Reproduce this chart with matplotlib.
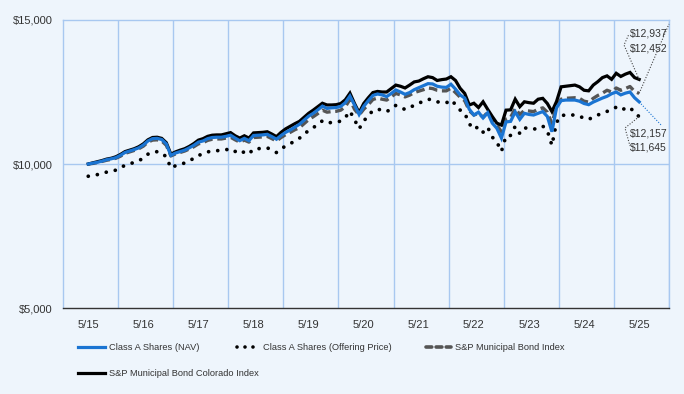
import matplotlib
matplotlib.use("Agg")
import matplotlib.pyplot as plt
from matplotlib.lines import Line2D

plt.rcParams['font.family'] = ['Liberation Sans', 'DejaVu Sans']

# ---------------- data (monthly, 5/15 .. 5/25) ----------------
tick_labels = ["5/15", "5/16", "5/17", "5/18", "5/19", "5/20", "5/21", "5/22", "5/23", "5/24", "5/25"]

nav = [10000, 10030, 10060, 10100, 10150, 10180, 10220, 10300, 10400, 10450, 10500, 10560,
       10660, 10800, 10880, 10890, 10850, 10700, 10300, 10380, 10430, 10480, 10560, 10650,
       10760, 10800, 10880, 10920, 10930, 10930, 10960, 11000, 10900, 10810, 10890, 10810,
       10990, 11000, 11010, 11030, 10950, 10860, 10990, 11100, 11180, 11280, 11380, 11520,
       11660, 11760, 11880, 12010, 11930, 11950, 11960, 12000, 12130, 12360, 12050, 11720,
       12000, 12200, 12380, 12430, 12400, 12340, 12450, 12570, 12500, 12420, 12480, 12580,
       12650, 12720, 12790, 12780, 12700, 12670, 12660, 12770, 12600, 12400, 12290, 11900,
       11700, 11800, 11600, 11780, 11420, 11240, 10900, 11460, 11480, 11810, 11550, 11760,
       11720, 11700, 11760, 11820, 11650, 11120, 11950, 12200, 12220, 12220, 12220, 12180,
       12100, 12060, 12150, 12220, 12290, 12350, 12440, 12500, 12400, 12460, 12500, 12300,
       12157]

offering = [9575, 9604, 9632, 9671, 9719, 9747, 9786, 9862, 9958, 10006, 10054, 10111,
            10207, 10341, 10418, 10427, 10389, 10245, 9862, 9939, 9987, 10035, 10111, 10197,
            10303, 10341, 10418, 10456, 10465, 10465, 10494, 10533, 10437, 10351, 10427, 10351,
            10523, 10533, 10542, 10561, 10485, 10398, 10523, 10628, 10705, 10801, 10896, 11030,
            11164, 11260, 11375, 11500, 11423, 11442, 11452, 11490, 11614, 11835, 11538, 11222,
            11490, 11682, 11854, 11902, 11873, 11816, 11921, 12036, 11969, 11892, 11950, 12045,
            12112, 12179, 12246, 12237, 12160, 12132, 12122, 12227, 12065, 11873, 11768, 11394,
            11203, 11299, 11107, 11279, 10935, 10762, 10437, 10973, 10992, 11308, 11059, 11260,
            11222, 11203, 11260, 11318, 11155, 10647, 11442, 11682, 11701, 11701, 11701, 11662,
            11586, 11547, 11634, 11701, 11768, 11825, 11911, 11969, 11873, 11930, 11969, 11777,
            11645]

muni = [10000, 10020, 10050, 10090, 10130, 10160, 10200, 10270, 10370, 10420, 10470, 10530,
        10620, 10760, 10830, 10840, 10800, 10650, 10280, 10350, 10400, 10450, 10520, 10600,
        10700, 10740, 10820, 10860, 10870, 10870, 10900, 10930, 10840, 10760, 10830, 10760,
        10920, 10930, 10940, 10960, 10880, 10800, 10920, 11020, 11100, 11190, 11260, 11400,
        11540, 11640, 11750, 11870, 11800, 11820, 11830, 11870, 11990, 12240, 11900, 11700,
        11900, 12060, 12240, 12290, 12250, 12220, 12330, 12450, 12400, 12330, 12390, 12480,
        12530, 12580, 12640, 12620, 12560, 12540, 12540, 12630, 12480, 12320, 12200, 11850,
        11700, 11760, 11620, 11800, 11520, 11350, 11120, 11560, 11620, 11930, 11720, 11860,
        11840, 11820, 11900, 11950, 11800, 11400, 12000, 12250, 12280, 12290, 12300, 12280,
        12180, 12150, 12280, 12380, 12460, 12560, 12500, 12640, 12560, 12620, 12690, 12520,
        12452]

colorado = [10000, 10040, 10080, 10120, 10170, 10200, 10250, 10330, 10430, 10480, 10530, 10600,
            10700, 10840, 10920, 10930, 10890, 10740, 10340, 10420, 10480, 10530, 10610, 10710,
            10830, 10880, 10960, 11000, 11010, 11010, 11050, 11090, 10980, 10900, 10980, 10900,
            11080, 11090, 11100, 11120, 11040, 10950, 11100, 11220, 11310, 11400, 11480, 11620,
            11760, 11870, 11990, 12110, 12050, 12050, 12060, 12100, 12230, 12460, 12100, 11780,
            12100, 12300, 12480, 12520, 12500, 12500, 12620, 12740, 12700, 12640, 12740, 12850,
            12880, 12960, 13030, 13000, 12900, 12930, 12950, 13030, 12900, 12630, 12450, 12050,
            12110, 11960, 12160, 11900, 11650, 11420, 11350, 11870, 11880, 12250, 11990, 12160,
            12130, 12110, 12250, 12280, 12100, 11820, 12170, 12680, 12700, 12720, 12740, 12680,
            12560, 12540, 12740, 12860, 13000, 13060, 12940, 13150, 13040, 13120, 13180, 13000,
            12937]

end_labels = ["$12,937", "$12,452", "$12,157", "$11,645"]

# ---------------- style ----------------
BG = '#eef5fc'
GRID = '#a8c8f0'
BLUE = '#1a74d2'
GRAY = '#555555'
TXT = '#333333'

W, H = 684, 394
fig = plt.figure(figsize=(W / 100, H / 100), dpi=100, facecolor=BG)
ax = fig.add_axes([63 / W, (H - 308) / H, (669 - 63) / W, (308 - 20) / H], facecolor=BG)

months = list(range(len(nav)))

ax.plot(months, muni, color=GRAY, lw=2.4, ls=(0, (2.6, 1.4)), zorder=3)
ax.plot(months, offering, color='black', lw=2.7, ls=(0, (0.01, 2.45)),
        dash_capstyle='round', zorder=3)
ax.plot(months, colorado, color='black', lw=2.3, zorder=4, solid_joinstyle='miter')
ax.plot(months, nav, color=BLUE, lw=2.3, zorder=5, solid_joinstyle='miter')

ax.set_xlim(-5.5, 126.5)
ax.set_ylim(5000, 15000)
ax.set_xticks([12 * i for i in range(len(tick_labels))])
ax.set_xticklabels(tick_labels)
ax.set_yticks([5000, 10000, 15000])
ax.set_yticklabels(["$5,000", "$10,000", "$15,000"])
ax.tick_params(length=0, labelsize=8, colors=TXT)
ax.tick_params(axis='y', pad=7.5)
ax.tick_params(axis='x', pad=9)

for xv in [6.5 + 12 * i for i in range(11)]:
    ax.axvline(xv, color=GRID, lw=1.0, zorder=1)
ax.axhline(10000, color=GRID, lw=1.0, zorder=1)
for s in ['left', 'top', 'right']:
    ax.spines[s].set_color(GRID)
    ax.spines[s].set_linewidth(1.0)
ax.spines['bottom'].set_color('#333333')
ax.spines['bottom'].set_linewidth(1.0)


# pixel -> data helpers for annotation placement
def px2x(px):
    return -5.5 + (px - 63) / (669 - 63) * 132.0


def py2y(py):
    return 5000 + (308 - py) / (308 - 20) * 10000.0


last = len(nav) - 1
lead = dict(lw=0.8, ls=(0, (1, 1.5)), zorder=6, clip_on=False)
# $12,937 (Colorado)
ax.plot([last, px2x(624), px2x(629)], [colorado[-1], py2y(45), py2y(34)], color='#444444', **lead)
# $12,452 (Muni)
ax.plot([last, px2x(669)], [muni[-1], py2y(24)], color='#444444', **lead)
# $12,157 (NAV)
ax.plot([last, px2x(662)], [nav[-1], py2y(126)], color=BLUE, **lead)
# $11,645 (offering)
ax.plot([last, px2x(625), px2x(630)], [offering[-1], py2y(128), py2y(146)], color='#444444', **lead)

tkw = dict(fontsize=7.5, color=TXT, va='center', ha='left')
ax.text(px2x(630), py2y(34), end_labels[0], **tkw)
ax.text(px2x(630), py2y(49), end_labels[1], **tkw)
ax.text(px2x(630), py2y(133), end_labels[2], **tkw)
ax.text(px2x(630), py2y(148), end_labels[3], **tkw)

# ---------------- legend (manual, figure pixels) ----------------
def fx(px):
    return px / W


def fy(py):
    return (H - py) / H


legend_items = [
    ("Class A Shares (NAV)", dict(color=BLUE, lw=2.3), 78, 105, 109, 347),
    ("Class A Shares (Offering Price)", dict(color='black', lw=2.6, ls=(0, (0.01, 2.2)),
                                               dash_capstyle='round'), 237, 260, 263, 347),
    ("S&P Municipal Bond Index", dict(color=GRAY, lw=2.6, ls=(0, (1.6, 1.2)),
                                      dash_capstyle='round'), 426, 451, 455, 347),
    ("S&P Municipal Bond Colorado Index", dict(color='black', lw=2.3), 78, 105, 109, 373),
]
for label, kw, x0, x1, tx, yy in legend_items:
    fig.add_artist(Line2D([fx(x0), fx(x1)], [fy(yy), fy(yy)], transform=fig.transFigure, **kw))
    fig.text(fx(tx), fy(yy), label, fontsize=6.7, color=TXT, va='center', ha='left')

fig.savefig("out.png", dpi=100, facecolor=BG)
